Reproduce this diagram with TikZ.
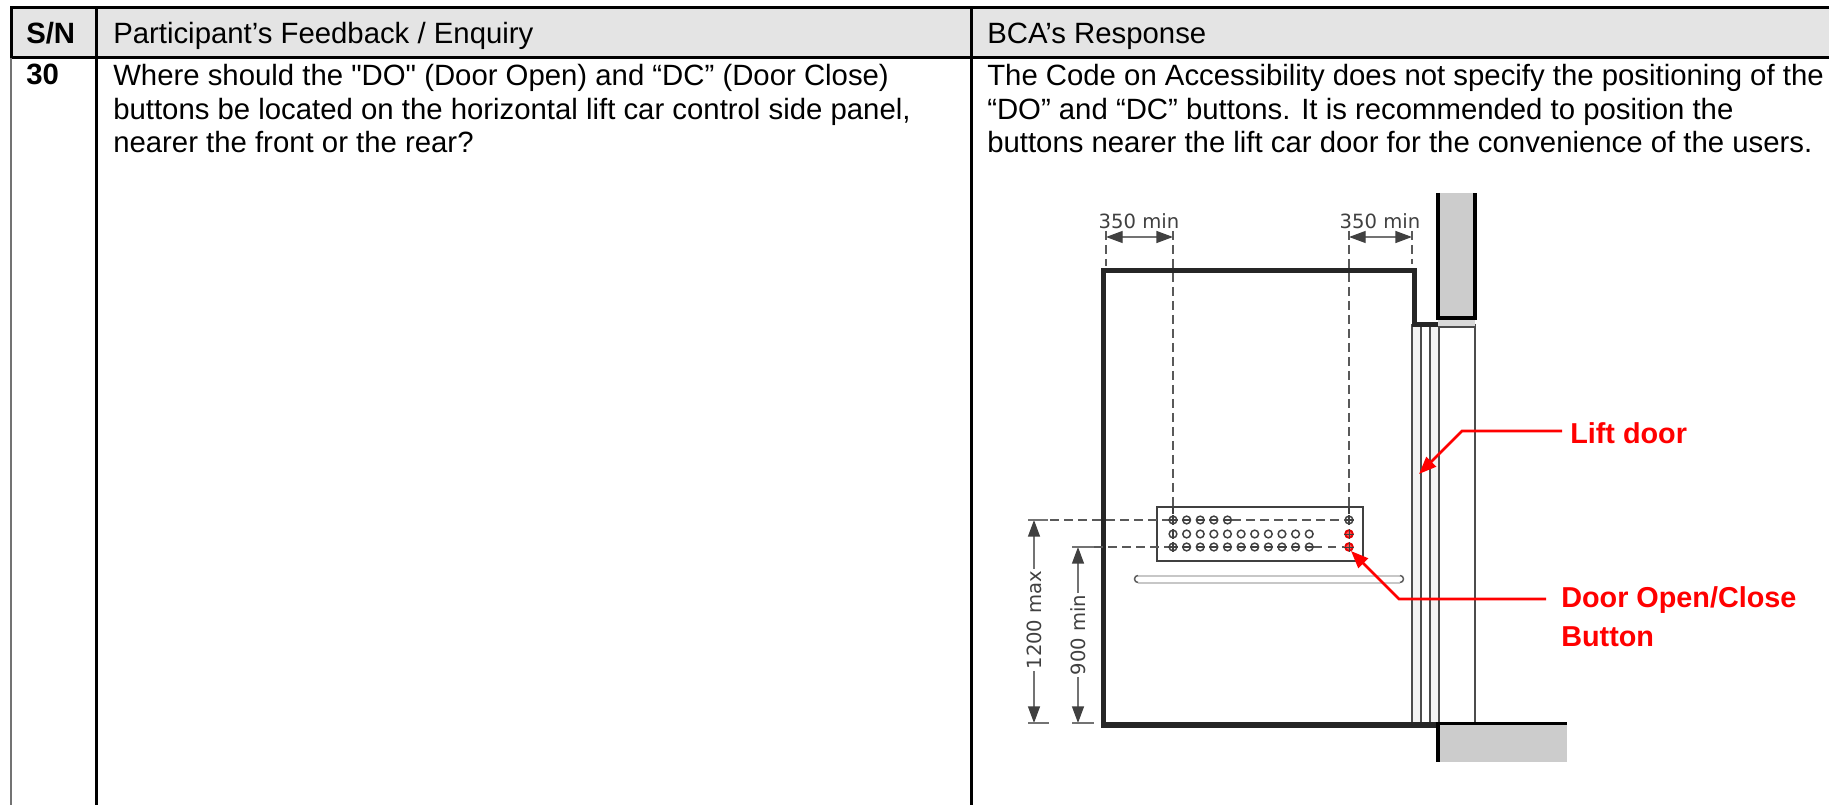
\documentclass[tikz,border=0pt]{standalone}
\usepackage{fontspec}
\newfontfamily\arial{Liberation Sans}
\newfontfamily\dimfont{DejaVu Sans}
\usetikzlibrary{arrows.meta}
\definecolor{hdr}{HTML}{E4E4E4}
\definecolor{ink}{HTML}{404040}
\definecolor{wallgray}{HTML}{CCCCCC}
\definecolor{doorgray}{HTML}{F3F3F3}
\definecolor{leader}{HTML}{FF0000}
\tikzset{
  x=0.75pt, y=-0.75pt,
  txt/.style={inner sep=0pt, anchor=base west, font=\arial\fontsize{22pt}{24pt}\selectfont, text=black},
  txtb/.style={txt, font=\arial\fontsize{22pt}{24pt}\selectfont\bfseries},
  redtxt/.style={txt, font=\arial\fontsize{21.6pt}{24pt}\selectfont\bfseries, text=leader},
  rule/.style={line width=2.25pt, black},
  wall/.style={line width=3.8pt, black!85, line join=miter},
  blackwall/.style={line width=2.4pt, black},
  doorline/.style={line width=1.5pt, black!70},
  dimlab/.style={inner sep=1pt, text=ink, font=\dimfont\fontsize{14.7pt}{18pt}\selectfont},
  dimline/.style={line width=1pt, black!55},
  dimarrow/.style={dimline, {Triangle[length=12.5pt,width=9pt,color=ink]}-{Triangle[length=12.5pt,width=9pt,color=ink]}},
  dimend/.style={dimline, -{Triangle[length=12.5pt,width=9pt,color=ink]}},
  dashl/.style={line width=1pt, black!65, dash pattern=on 6.5pt off 4pt},
  btn/.style={circle, draw=ink, line width=1.1pt, minimum size=5.8pt, inner sep=0pt},
  btnred/.style={btn, fill=leader!70, draw=leader!90!black, line width=1.3pt},
  cross/.style={line width=0.8pt, ink},
  redl/.style={line width=2.1pt, leader, line join=miter},
  redar/.style={redl, -{Triangle[length=13pt,width=10pt]}}
}
\begin{document}
\begin{tikzpicture}
\useasboundingbox (0,0) rectangle (1829,805);
\fill[white] (0,0) rectangle (1829,805);
% table
\fill[hdr] (11,8) rectangle (1829,57);
\draw[rule] (10,8) -- (1829,8);
\draw[rule] (10,57.5) -- (1829,57.5);
\draw[rule] (11,8) -- (11,57);
\draw[line width=1.6pt, black!55] (11,58) -- (11,805);
\draw[rule] (96,8) -- (96,805);
\draw[rule] (971,8) -- (971,805);
\node[txtb] (sn) at (26,44) {S/N};
\node[txt] (hq) at (113,44) {Participant’s Feedback / Enquiry};
\node[txt] (hr) at (987,44) {BCA’s Response};
\node[txtb] (num) at (26,85) {30};
\node[txt] (q1) at (113,85.5) {Where should the "DO" (Door Open) and “DC” (Door Close)};
\node[txt] (q2) at (113,119.5) {buttons be located on the horizontal lift car control side panel,};
\node[txt] (q3) at (113,153) {nearer the front or the rear?};
\node[txt] (r1) at (987,85.5) {The Code on Accessibility does not specify the positioning of the};
\node[txt] (r2) at (987,119.5) {“DO” and “DC” buttons. It is recommended to position the};
\node[txt] (r3) at (987,153) {buttons nearer the lift car door for the convenience of the users.};
% door bands
\fill[doorgray] (1412,326) rectangle (1421,722);
\fill[doorgray] (1430,326) rectangle (1439,722);
\foreach \dx in {1412,1421,1430,1439,1475} \draw[doorline] (\dx,324) -- (\dx,724);
% wall on the right
\fill[wallgray] (1438,193) rectangle (1475,317);
\fill[black!15] (1438,317) rectangle (1475,326);
\draw[doorline, line width=1pt] (1438,327) -- (1475,327);
\draw[blackwall] (1438,193) -- (1438,318) -- (1475,318) -- (1475,193);
% car outline
\draw[wall] (1439,725) -- (1103.5,725) -- (1103.5,270.5) -- (1414.5,270.5) -- (1414.5,324.5) -- (1438,324.5);
% floor block
\fill[wallgray] (1439,724) rectangle (1567,762);
\draw[blackwall] (1438,723.5) -- (1567,723.5);
\draw[blackwall] (1438,722) -- (1438,762);
% panel
\draw[line width=1.4pt, ink, fill=white] (1157,507) rectangle (1363,561);
% rail
\draw[line width=1.5pt, black!22] (1138,575.5) -- (1400,575.5);
\draw[line width=1.5pt, black!22] (1138,582.5) -- (1400,582.5);
\draw[line width=1.1pt, ink!85] (1138,575.5) arc[start angle=-90, end angle=-270, radius=3.5];
\draw[line width=1.1pt, ink!85] (1400,575.5) arc[start angle=-90, end angle=90, radius=3.5];
% buttons
\foreach \r/\yy/\n in {a/520/5,b/534/11,c/547/11}{
  \foreach \i in {1,...,\n}{
    \node[btn] (\r\i) at ({1173+13.62*(\i-1)},\yy) {};
  }
}
\node[btn] (aend) at (1349,520) {};
\node[btnred] (do) at (1349,534) {};
\node[btnred] (dc) at (1349,547) {};
\foreach \i in {1,...,5} \draw[cross] (a\i.west) -- (a\i.east);
\foreach \i in {1,...,11} \draw[cross] (c\i.west) -- (c\i.east);
\draw[cross] (a1.north) -- (a1.south);
\draw[cross] (c1.north) -- (c1.south);
\draw[cross] (b1.north) -- (b1.south);
\draw[cross] (aend.west) -- (aend.east);
\draw[cross] (aend.north) -- (aend.south);
\draw[cross, line width=0.6pt] (do.north) -- (do.south);
\draw[cross, line width=0.6pt] (do.west) -- (do.east);
\draw[cross, line width=0.6pt] (dc.north) -- (dc.south);
\draw[cross, line width=0.6pt] (dc.west) -- (dc.east);
% dim coordinates
\coordinate (t1a) at (1106,237); \coordinate (t1b) at (1173,237);
\coordinate (t2a) at (1349,237); \coordinate (t2b) at (1412,237);
\coordinate (d1top) at (1034,520); \coordinate (d1bot) at (1034,723);
\coordinate (d2top) at (1078,547); \coordinate (d2bot) at (1078,723);
% dim labels
\node[dimlab] (l350a) at (1139,221) {350 min};
\node[dimlab] (l350b) at (1380,221) {350 min};
\node[dimlab, rotate=90] (l1200) at (1034,620) {1200 max};
\node[dimlab, rotate=90] (l900) at (1078,635) {900 min};
% dim arrows
\draw[dimarrow] (t1a) -- (t1b);
\draw[dimarrow] (t2a) -- (t2b);
\draw[dimend] (l1200) -- (d1top);
\draw[dimend] (l1200) -- (d1bot);
\draw[dimend] (l900) -- (d2top);
\draw[dimend] (l900) -- (d2bot);
% extension lines
\draw[dashl] (1106,231) -- (1106,266);
\draw[dashl] (1173,231) -- (1173,507);
\draw[line width=1pt, ink] (1173,507) -- (1173,514);
\draw[dashl] (1349,231) -- (1349,507);
\draw[line width=1pt, ink] (1349,507) -- (1349,514);
\draw[dashl] (1412,231) -- (1412,264);
\draw[dimline] (1028,520) -- (1048,520);
\draw[dashl] (1050,520) -- (a1.west);
\draw[dashl] (a5.east) -- (aend.west);
\draw[dimline] (1072,547) -- (1094,547);
\draw[dashl] (1094,547) -- (c1.west);
\draw[dashl] (c11.east) -- (dc.west);
\draw[dimline] (1028,723) -- (1049,723);
\draw[dimline] (1072,723) -- (1094,723);
% callouts
\node[redtxt] (liftdoor) at (1570,444) {Lift door};
\node[redtxt] (dooropen) at (1561,607) {Door Open/Close};
\node[redtxt] (doorbtn) at (1561,646) {Button};
\coordinate (k1) at (1462,431); \coordinate (e1) at (1562,431); \coordinate (tip1) at (1419,474);
\coordinate (k2) at (1399,599); \coordinate (e2) at (1546,599); \coordinate (tip2) at (1351,551);
\draw[redar] (e1) -- (k1) -- (tip1);
\draw[redar] (e2) -- (k2) -- (tip2);
\end{tikzpicture}
\end{document}
